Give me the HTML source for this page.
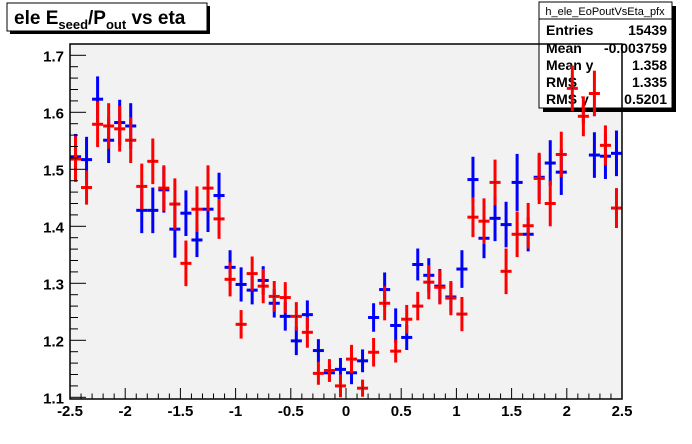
<!DOCTYPE html>
<html><head><meta charset="utf-8"><style>
body{margin:0;background:#fff;}
svg{display:block;font-family:"Liberation Sans",sans-serif;}
</style></head><body>
<svg id="c" width="692" height="444">
<rect x="70" y="44" width="552" height="355" fill="#f2f2f2"/>
<g id="blueG"></g>
<g>
<rect x="543" y="6" width="133" height="106" fill="#000"/>
<rect x="539" y="2" width="133" height="106" fill="#fff" stroke="#000" stroke-width="1"/>
<line x1="539" y1="19" x2="672" y2="19" stroke="#000"/>
<text x="605" y="15" font-size="11" text-anchor="middle">h_ele_EoPoutVsEta_pfx</text>
<g font-size="14" font-weight="bold">
<text x="546" y="35">Entries</text><text x="667" y="35" text-anchor="end">15439</text>
<text x="546" y="53">Mean</text><text x="667" y="53" text-anchor="end">-0.003759</text>
<text x="546" y="70">Mean y</text><text x="667" y="70" text-anchor="end">1.358</text>
<text x="546" y="87">RMS</text><text x="667" y="87" text-anchor="end">1.335</text>
<text x="546" y="104">RMS y</text><text x="667" y="104" text-anchor="end">0.5201</text>
</g></g>
<g id="redG"></g>
<rect x="70" y="44" width="552" height="355" fill="none" stroke="#000" stroke-width="1.5"/>
<g id="axes"></g>
<g>
<rect x="10" y="6" width="200" height="28" fill="#000"/>
<rect x="7" y="3" width="200" height="28" fill="#fff" stroke="#000"/>
<text x="14" y="24" font-size="19" font-weight="bold">ele E<tspan font-size="13" dy="5">seed</tspan><tspan dy="-5">/P</tspan><tspan font-size="13" dy="5">out</tspan><tspan dy="-5"> vs eta</tspan></text>
</g>
</svg>
<script>
const centers=[-2.45,-2.35,-2.25,-2.15,-2.05,-1.95,-1.85,-1.75,-1.65,-1.55,-1.45,-1.35,-1.25,-1.15,-1.05,-0.95,-0.85,-0.75,-0.65,-0.55,-0.45,-0.35,-0.25,-0.15,-0.05,0.05,0.15,0.25,0.35,0.45,0.55,0.65,0.75,0.85,0.95,1.05,1.15,1.25,1.35,1.45,1.55,1.65,1.75,1.85,1.95,2.05,2.15,2.25,2.35,2.45];
const blueVals=[1.522,1.517,1.623,1.551,1.582,1.576,1.428,1.428,1.464,1.395,1.423,1.376,1.430,1.454,1.328,1.298,1.288,1.305,1.265,1.242,1.199,1.245,1.182,1.143,1.149,1.143,1.164,1.240,1.289,1.226,1.205,1.333,1.314,1.295,1.276,1.325,1.482,1.379,1.414,1.403,1.477,1.386,1.486,1.511,1.495,1.65,1.62,1.525,1.523,1.528];
const blueErr=[0.04,0.04,0.04,0.04,0.04,0.04,0.04,0.04,0.04,0.05,0.04,0.03,0.04,0.04,0.03,0.03,0.025,0.025,0.025,0.025,0.025,0.025,0.02,0.015,0.02,0.02,0.02,0.025,0.03,0.03,0.022,0.028,0.03,0.03,0.025,0.033,0.04,0.035,0.04,0.04,0.05,0.03,0.04,0.04,0.04,0.04,0.04,0.04,0.04,0.04];
const redVals=[1.518,1.468,1.579,1.576,1.571,1.551,1.470,1.514,1.467,1.439,1.335,1.430,1.467,1.413,1.307,1.228,1.317,1.295,1.277,1.275,1.242,1.214,1.142,1.147,1.120,1.167,1.116,1.179,1.265,1.181,1.237,1.260,1.302,1.293,1.274,1.246,1.416,1.409,1.477,1.321,1.386,1.401,1.484,1.440,1.526,1.642,1.593,1.633,1.542,1.432];
const redErr=[0.04,0.03,0.04,0.04,0.04,0.04,0.04,0.04,0.04,0.045,0.04,0.04,0.04,0.035,0.03,0.025,0.03,0.03,0.027,0.027,0.025,0.027,0.02,0.02,0.02,0.025,0.015,0.025,0.03,0.02,0.025,0.025,0.03,0.03,0.03,0.03,0.035,0.04,0.04,0.04,0.04,0.04,0.045,0.04,0.04,0.04,0.035,0.04,0.035,0.035];
const xTicks=[-2.5,-2,-1.5,-1,-0.5,0,0.5,1,1.5,2,2.5];
const xTickLabels=["-2.5","-2","-1.5","-1","-0.5","0","0.5","1","1.5","2","2.5"];
const yTicks=[1.1,1.2,1.3,1.4,1.5,1.6,1.7];
const yTickLabels=["1.1","1.2","1.3","1.4","1.5","1.6","1.7"];
const NS="http://www.w3.org/2000/svg";
const X=v=>346+v*110.4;
const Y=v=>397.3-(v-1.1)*570;
function mk(t,a,p){const e=document.createElementNS(NS,t);for(const k in a)e.setAttribute(k,a[k]);p.appendChild(e);return e;}
function clipY(y){return Math.max(44,Math.min(399,y));}
function series(vals,errs,col,g,nm){
 vals.forEach((v,i)=>{
  const cx=X(centers[i]),cy=Y(v);
  const m=mk('g',{},g);
  
  
  mk('line',{x1:cx,x2:cx,y1:clipY(Y(v+errs[i])),y2:clipY(Y(v-errs[i])),stroke:col,'stroke-width':3},m);
  if(cy>=44&&cy<=399){
   mk('line',{x1:X(centers[i]-0.05),x2:X(centers[i]+0.05),y1:cy,y2:cy,stroke:col,'stroke-width':3},m);
   mk('rect',{x:cx-0.5,y:cy-0.5,width:1,height:1,fill:'#000'},m);
  }
 });
}
series(blueVals,blueErr,'#0000ff',document.getElementById('blueG'),'blue');
series(redVals,redErr,'#ff0000',document.getElementById('redG'),'red');
const ax=document.getElementById('axes');
for(let k=-25;k<=25;k++){const v=k/10,x=X(v),maj=(k%5===0);
 mk('line',{x1:x,x2:x,y1:399,y2:399-(maj?11:5.5),stroke:'#000'},ax);}
xTicks.forEach((v,i)=>{const t=mk('text',{x:X(v),y:416,'font-size':15,'font-weight':'bold','text-anchor':'middle'},ax);t.textContent=xTickLabels[i];
 });
for(let k=0;k<=31;k++){const v=1.1+k*0.02,y=Y(v);if(y<44)break;const maj=(k%5===0);
 mk('line',{x1:70,x2:70+(maj?16:8),y1:y,y2:y,stroke:'#000'},ax);}
yTicks.forEach((v,i)=>{const t=mk('text',{x:64,y:Y(v)+6,'font-size':15,'font-weight':'bold','text-anchor':'end'},ax);t.textContent=yTickLabels[i];
 });
</script>
</body></html>
